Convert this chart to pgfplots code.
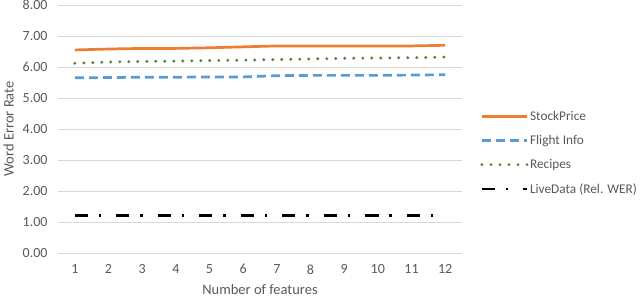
\documentclass[border=0pt]{standalone}
\usepackage{pgfplots}
\pgfplotsset{compat=1.18}
\usepackage{fontspec}
\setmainfont{Carlito}
\definecolor{corange}{HTML}{ED7D31}
\definecolor{cblue}{HTML}{5B9BD5}
\definecolor{cgreen}{HTML}{548235}
\definecolor{cgrid}{HTML}{D9D9D9}
\definecolor{ctext}{HTML}{595959}
\begin{document}
\begin{tikzpicture}
\useasboundingbox (-58bp,-47bp) rectangle (582bp,253bp);
\begin{axis}[
  at={(0,0)}, anchor=south west,
  scale only axis,
  width=404bp, height=248bp,
  xmin=0.5, xmax=12.5, ymin=0, ymax=8,
  xtick={1,...,12}, ytick={0,1,...,8},
  axis line style={draw=none},
  major tick length=0pt,
  ymajorgrids, grid style={cgrid, line width=1bp},
  /pgf/number format/assume math mode=true,
  ticklabel style={font=\fontsize{14bp}{16bp}\selectfont, text=ctext},
  yticklabel style={/pgf/number format/fixed, /pgf/number format/fixed zerofill, /pgf/number format/precision=2, xshift=-7bp},
  xticklabel style={yshift=-8bp},
  xlabel={Number of features}, ylabel={Word Error Rate},
  label style={font=\fontsize{14.5bp}{16bp}\selectfont, text=ctext},
  xlabel style={yshift=-3bp},
  ylabel style={yshift=2bp},
  legend style={at={(1.045,0.59)}, anchor=north west, draw=none, fill=none,
    font=\fontsize{13.3bp}{15bp}\selectfont, text=ctext, row sep=9.5bp,
    inner xsep=0bp, nodes={inner xsep=1.5bp}},
  legend cell align=left,
  legend image code/.code={\draw[#1] (0bp,0bp) -- (45bp,0bp);},
]
\addplot[corange, line width=2.7bp] coordinates {
(1,6.55)(2,6.58)(3,6.60)(4,6.60)(5,6.62)(6,6.65)(7,6.68)(8,6.68)(9,6.68)(10,6.68)(11,6.68)(12,6.70)};
\addlegendentry{StockPrice}
\addplot[cblue, line width=2.7bp, dash pattern=on 9bp off 5bp] coordinates {
(1,5.65)(2,5.66)(3,5.67)(4,5.67)(5,5.68)(6,5.68)(7,5.72)(8,5.73)(9,5.73)(10,5.73)(11,5.74)(12,5.75)};
\addlegendentry{Flight Info}
\addplot[cgreen, line width=3.2bp, line cap=round, dash pattern=on 0bp off 9bp] coordinates {
(1,6.12)(2,6.16)(3,6.18)(4,6.19)(5,6.21)(6,6.22)(7,6.24)(8,6.26)(9,6.28)(10,6.29)(11,6.30)(12,6.32)};
\addlegendentry{Recipes}
\addplot[black, line width=2.8bp, dash pattern=on 13bp off 11bp on 2.5bp off 15bp] coordinates {
(1,1.20)(2,1.20)(3,1.20)(4,1.20)(5,1.20)(6,1.20)(7,1.20)(8,1.20)(9,1.20)(10,1.20)(11,1.20)(12,1.20)};
\addlegendentry{LiveData (Rel. WER)}
\end{axis}
\end{tikzpicture}
\end{document}
